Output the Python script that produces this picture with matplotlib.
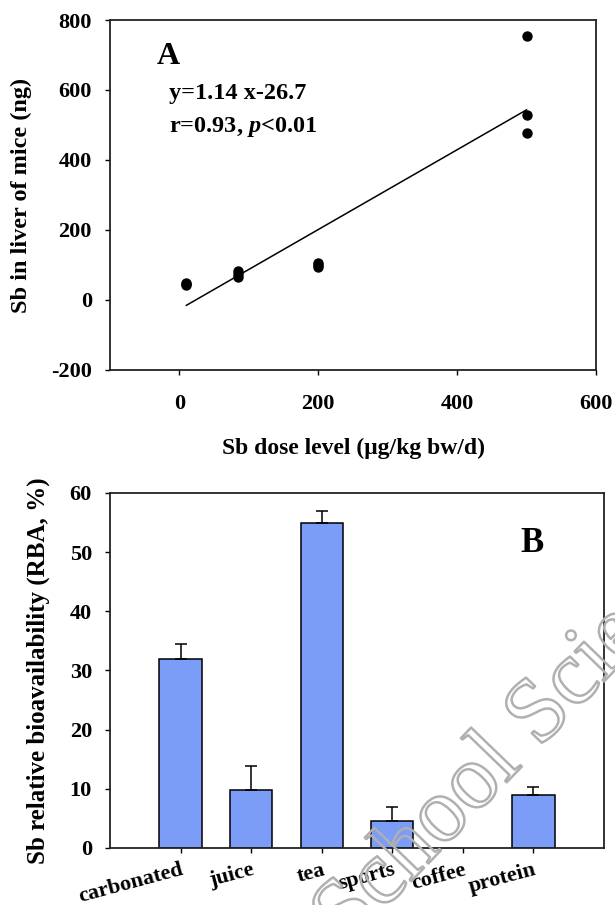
import numpy as np
import matplotlib
matplotlib.use("Agg")
import matplotlib.pyplot as plt
import matplotlib.patheffects as pe

plt.rcParams["font.family"] = ["Liberation Serif", "DejaVu Serif"]
plt.rcParams["font.weight"] = "bold"
plt.rcParams["axes.unicode_minus"] = False
plt.rcParams["mathtext.fontset"] = "custom"
plt.rcParams["mathtext.it"] = "Liberation Serif:italic:bold"
plt.rcParams["mathtext.rm"] = "Liberation Serif:bold"

# ── 数据：A 剂量-肝脏 Sb ─────────────────────────────────────────
dose = [10, 10, 10, 85, 85, 85, 200, 200, 200, 500, 500, 500]
liver_sb = [44, 46, 48, 67, 75, 84, 93, 100, 107, 755, 529, 477]
fit_slope = 1.14
fit_intercept = -26.7

# ── 数据：B 各类饮料 RBA ───────────────────────────────────────
drinks = ["carbonated", "juice", "tea", "sports", "coffee", "protein"]
rba = [32.0, 9.8, 55.0, 4.5, np.nan, 9.0]
rba_err = [2.4, 4.1, 2.0, 2.4, np.nan, 1.3]

fig = plt.figure(figsize=(6.15, 9.05), dpi=100)
ax_a = fig.add_axes([0.1789, 0.5912, 0.7902, 0.3867])
ax_b = fig.add_axes([0.1789, 0.0630, 0.8033, 0.3923])

for ax in (ax_a, ax_b):
    for side in ("top", "right", "left", "bottom"):
        ax.spines[side].set_linewidth(1.3)
        ax.spines[side].set_color("#222222")
    ax.tick_params(direction="out", length=3.6, width=1.0, top=False, right=False,
                   labelsize=16)
    ax.tick_params(axis="y", pad=9.4)

# ── A ────────────────────────────────────────────────────────────
ax_a.scatter(dose, liver_sb, s=42, color="black", zorder=3)
xf = np.array([min(dose), max(dose)])
ax_a.plot(xf, fit_slope * xf + fit_intercept, color="black", lw=1.1)
ax_a.set_xlim(-100, 600)
ax_a.set_ylim(-200, 800)
ax_a.set_xticks([0, 200, 400, 600])
ax_a.set_yticks([-200, 0, 200, 400, 600, 800])
ax_a.tick_params(axis="x", pad=14)
ax_a.set_xlabel("Sb dose level (μg/kg bw/d)", fontsize=17, fontweight="bold")
ax_a.set_ylabel("Sb in liver of mice (ng)", fontsize=17.5, fontweight="bold")
ax_a.xaxis.set_label_coords(0.5, -0.194)
ax_a.yaxis.set_label_coords(-0.160, 0.5)
ax_a.text(0.097, 0.897, "A", transform=ax_a.transAxes, fontsize=23,
          fontweight="bold", ha="left", va="center")
ax_a.text(0.121, 0.789, "y=1.14 x-26.7", transform=ax_a.transAxes, fontsize=17.5,
          fontweight="bold", ha="left", va="center")
ax_a.text(0.121, 0.694, "r=0.93, $\\mathit{p}$<0.01", transform=ax_a.transAxes,
          fontsize=17.5, fontweight="bold", ha="left", va="center")

# ── B ────────────────────────────────────────────────────────────
pos = np.arange(1, len(drinks) + 1)
ax_b.bar(pos, rba, width=0.6, color="#7b9cf7", edgecolor="black", linewidth=1.1,
         zorder=2)
ax_b.errorbar(pos, rba, yerr=[[0] * len(rba), rba_err], fmt="none", ecolor="black",
              elinewidth=1.1, capsize=4, capthick=1.1, zorder=3)
ax_b.set_xlim(0, 7)
ax_b.set_ylim(0, 60)
ax_b.set_xticks(pos)
ax_b.set_xticklabels(drinks, rotation=15, ha="right", va="top",
                     rotation_mode="anchor", fontsize=16)
ax_b.tick_params(axis="x", pad=5)
ax_b.set_yticks(range(0, 61, 10))
ax_b.set_ylabel("Sb relative bioavailability (RBA, %)", fontsize=18,
                fontweight="bold")
ax_b.yaxis.set_label_coords(-0.121, 0.5)
ax_b.text(0.854, 0.859, "B", transform=ax_b.transAxes, fontsize=25,
          fontweight="bold", ha="center", va="center")

# 水印
fig.text(0.563, -0.048, "School Science", fontsize=66, fontweight="normal",
         rotation=46, rotation_mode="anchor", ha="left", va="baseline",
         color=(1, 1, 1, 0), zorder=10,
         path_effects=[pe.withStroke(linewidth=1.8, foreground="#b0b0b0")])

fig.savefig("out.png", dpi=100)
